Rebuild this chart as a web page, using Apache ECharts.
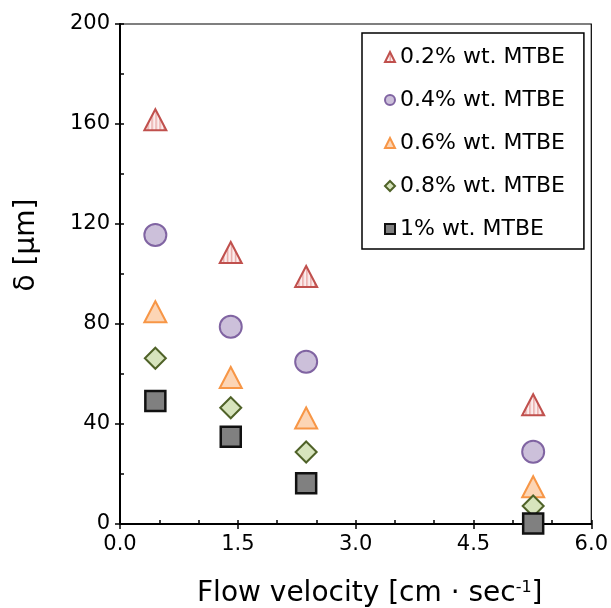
<!DOCTYPE html>
<html>
<head>
<meta charset="utf-8">
<script src="https://cdn.jsdelivr.net/npm/echarts@6/dist/echarts.min.js"></script>
<style>
  html, body { margin: 0; padding: 0; background: #fff; }
  #main { width: 611px; height: 608px; }
</style>
</head>
<body>
<div id="main"></div>
<script>
// flow velocity (cm/s)
var velocity = [0.45, 1.41, 2.37, 5.26];
// film thickness per MTBE concentration (um)
var mtbe02 = [161.7, 108.6, 99.0, 47.7];
var mtbe04 = [115.6, 78.9, 64.9, 28.9];
var mtbe06 = [84.9, 58.6, 42.4, 14.9];
var mtbe08 = [66.3, 46.5, 28.8, 7.2];
var mtbe1  = [49.2, 34.9, 16.3, 0.2];
var seriesNames = ['0.2% wt. MTBE', '0.4% wt. MTBE', '0.6% wt. MTBE', '0.8% wt. MTBE', '1% wt. MTBE'];

var font = 'DejaVu Sans, Verdana, sans-serif';

function pts(ys) {
    var out = [];
    for (var i = 0; i < velocity.length; i++) out.push([velocity[i], ys[i]]);
    return out;
}

// vertical stripe fill for the 0.2% triangles
var stripe = document.createElement('canvas');
stripe.width = 4; stripe.height = 4;
var sc = stripe.getContext('2d');
sc.fillStyle = '#FBEDED'; sc.fillRect(0, 0, 4, 4);
sc.fillStyle = '#E9A9A7'; sc.fillRect(0, 0, 1.5, 4);

var myChart = echarts.init(document.getElementById('main'), null, {renderer: 'canvas'});

var option = {
    backgroundColor: '#fff',
    animation: false,
    grid: {left: 120, right: 18, top: 24, bottom: 84, show: true, borderColor: '#000', borderWidth: 1.2},
    xAxis: [{
        type: 'value', min: 0, max: 6, interval: 1.5, position: 'bottom',
        axisLine: {show: true, onZero: false, lineStyle: {color: '#000', width: 2}},
        axisTick: {show: true, inside: false, length: 5, lineStyle: {color: '#000', width: 1.5}},
        axisLabel: {color: '#000', fontSize: 21, fontFamily: font, margin: 10,
            formatter: function (v) { return v.toFixed(1); }},
        splitLine: {show: false}
    }, {
        type: 'value', min: 0, max: 6, interval: 0.5, position: 'bottom',
        axisLine: {show: false, onZero: false},
        axisTick: {show: true, inside: true, length: 4, lineStyle: {color: '#000', width: 1.5}},
        axisLabel: {show: false}, splitLine: {show: false}
    }],
    yAxis: [{
        type: 'value', min: 0, max: 200, interval: 40, position: 'left',
        axisLine: {show: true, onZero: false, lineStyle: {color: '#000', width: 2}},
        axisTick: {show: true, inside: false, length: 5, lineStyle: {color: '#000', width: 1.5}},
        axisLabel: {color: '#000', fontSize: 21, fontFamily: font, margin: 10},
        splitLine: {show: false}
    }, {
        type: 'value', min: 0, max: 200, interval: 20, position: 'left', offset: 0,
        axisLine: {show: false, onZero: false},
        axisTick: {show: true, inside: true, length: 4, lineStyle: {color: '#000', width: 1.5}},
        axisLabel: {show: false}, splitLine: {show: false}
    }],
    legend: {
        orient: 'vertical', left: 362, top: 33,
        padding: [13, 19, 9, 22], itemGap: 21,
        itemWidth: 10, itemHeight: 10,
        borderColor: '#000', borderWidth: 1.5, backgroundColor: '#fff',
        textStyle: {color: '#000', fontSize: 22, fontFamily: font, padding: [0, 0, 0, 0]},
        data: seriesNames
    },
    graphic: [{
        type: 'text', x: 197, y: 580,
        style: {
            text: '{t|Flow velocity [cm · sec}{s|-1}{t|]}',
            rich: {
                t: {fontSize: 28, fontFamily: font, fill: '#000'},
                s: {fontSize: 16, fontFamily: font, fill: '#000', verticalAlign: 'top', padding: [0, 0, 10, 0]}
            }
        }
    }, {
        type: 'text', x: 27, y: 245, rotation: Math.PI / 2,
        style: {text: 'δ [µm]', fontSize: 28, fontFamily: font, fill: '#000',
            align: 'center', verticalAlign: 'middle'}
    }],
    series: [{
        name: seriesNames[0], type: 'scatter', data: pts(mtbe02),
        symbol: 'triangle', symbolSize: [22, 21],
        itemStyle: {opacity: 1, color: {image: stripe, repeat: 'repeat', scaleX: 1 / 11, scaleY: 1 / 11},
            borderColor: '#C0504D', borderWidth: 2}
    }, {
        name: seriesNames[1], type: 'scatter', data: pts(mtbe04),
        symbol: 'circle', symbolSize: 22,
        itemStyle: {opacity: 1, color: '#CCC0DA', borderColor: '#8064A2', borderWidth: 2}
    }, {
        name: seriesNames[2], type: 'scatter', data: pts(mtbe06),
        symbol: 'triangle', symbolSize: [22, 21],
        itemStyle: {opacity: 1, color: '#FCD5B5', borderColor: '#F79646', borderWidth: 2}
    }, {
        name: seriesNames[3], type: 'scatter', data: pts(mtbe08),
        symbol: 'diamond', symbolSize: [21, 21],
        itemStyle: {opacity: 1, color: '#D7E4BD', borderColor: '#4F6228', borderWidth: 2}
    }, {
        name: seriesNames[4], type: 'scatter', data: pts(mtbe1),
        symbol: 'rect', symbolSize: 20,
        itemStyle: {opacity: 1, color: '#808080', borderColor: '#111', borderWidth: 2.5}
    }]
};
myChart.setOption(option);
</script>
</body>
</html>
